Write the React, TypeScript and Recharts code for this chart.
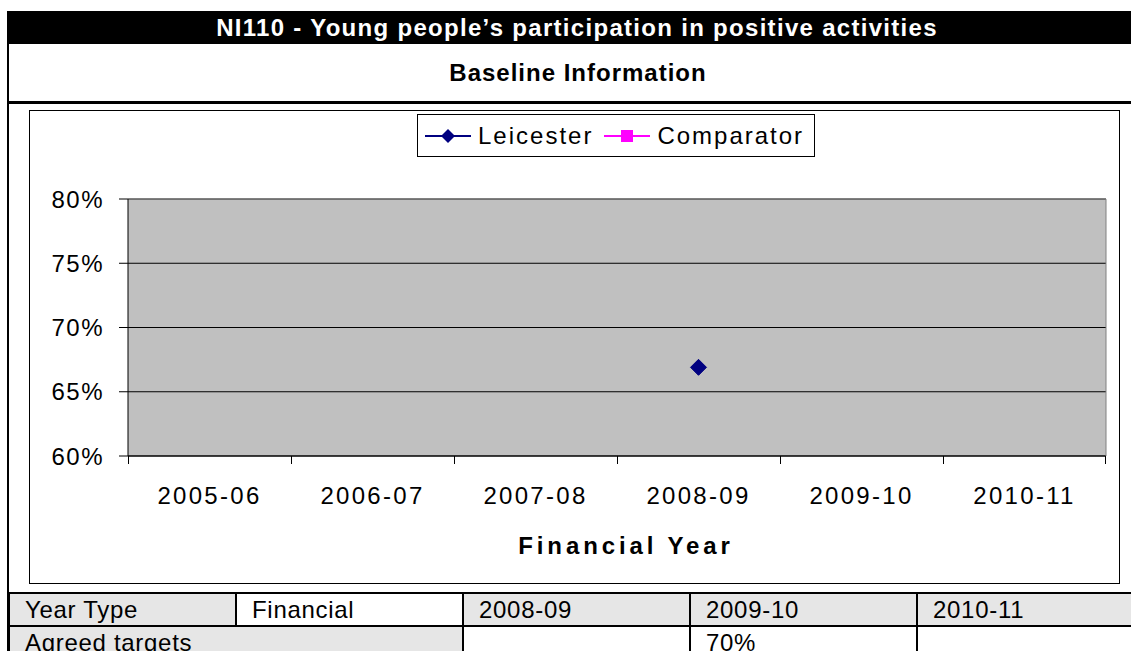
import React from 'react'
import { LineChart, Line, XAxis, YAxis, CartesianGrid, Legend } from 'recharts'

const years = ['2005-06', '2006-07', '2007-08', '2008-09', '2009-10', '2010-11']
const leicester = [null, null, null, 66.9, null, null]
const comparator = [null, null, null, null, null, null]
const yTicks = [60, 65, 70, 75, 80]
const seriesOrder = ['leicester', 'comparator']

const titleText = 'NI110 - Young people\u2019s participation in positive activities'
const subTitle = 'Baseline Information'
const xTitle = 'Financial Year'

const yearRow = ['Year Type', 'Financial', '2008-09', '2009-10', '2010-11']
const targetLabel = 'Agreed targets'
const targetValues = ['', '70%', '']

const data = years.map((year, i) => ({
  year,
  leicester: leicester[i],
  comparator: comparator[i],
}))

const FONT = '"Liberation Sans", Arial, sans-serif'
const NAVY = '#000080'
const MAGENTA = '#FF00FF'
const GREY_CELL = '#E6E6E6'

const colEdges = [8, 235, 462, 689, 916, 1150]

// x axis: labels sit in the middle of each band, tick marks between bands (Excel style)
const X_TICK_MARGIN = 31
const X_TICK_LEN = 8

function BandTick(props: any) {
  const { x, y, payload, index, width, visibleTicksCount } = props
  const half = width / visibleTicksCount / 2
  const axisY = y - X_TICK_MARGIN
  const left = Math.round(x - half) + 0.5
  const right = Math.round(x + half) - 0.5
  return (
    <g>
      <line x1={left} x2={left} y1={axisY} y2={axisY + X_TICK_LEN} stroke="#000" />
      {index === visibleTicksCount - 1 && (
        <line x1={right} x2={right} y1={axisY} y2={axisY + X_TICK_LEN} stroke="#000" />
      )}
      <text x={x} y={y} dy="0.71em" textAnchor="middle" fill="#000" fontSize={24} letterSpacing={2.3}>
        {payload.value}
      </text>
    </g>
  )
}

function Diamond(props: any) {
  const { cx, cy, value, key } = props
  if (value == null || cx == null || cy == null) return <g key={key} />
  const r = 8
  return (
    <polygon
      key={key}
      points={`${cx},${cy - r} ${cx + r},${cy} ${cx},${cy + r} ${cx - r},${cy}`}
      fill={NAVY}
      stroke={NAVY}
    />
  )
}

function Square(props: any) {
  const { cx, cy, value, key } = props
  if (value == null || cx == null || cy == null) return <g key={key} />
  return <rect key={key} x={cx - 6} y={cy - 6} width={12} height={12} fill={MAGENTA} />
}

function LegendBox(props: any) {
  const payload = [...(props.payload || [])].sort(
    (a: any, b: any) => seriesOrder.indexOf(a.dataKey) - seriesOrder.indexOf(b.dataKey)
  )
  return (
    <div
      style={{
        boxSizing: 'border-box',
        width: 398,
        height: 43,
        border: '1px solid #000',
        background: '#fff',
        display: 'flex',
        alignItems: 'center',
        paddingLeft: 7,
        fontFamily: FONT,
      }}
    >
      {payload.map((entry: any) => {
        const isL = entry.dataKey === 'leicester'
        const color = isL ? NAVY : MAGENTA
        return (
          <span key={entry.value} style={{ display: 'flex', alignItems: 'center', marginRight: 11 }}>
            <svg width={46} height={20} style={{ display: 'block' }}>
              <line x1={0} x2={46} y1={10} y2={10} stroke={color} strokeWidth={2} />
              {isL ? (
                <polygon points="23,3 30,10 23,17 16,10" fill={color} />
              ) : (
                <rect x={17} y={4} width={12} height={12} fill={color} />
              )}
            </svg>
            <span style={{ marginLeft: 7, fontSize: 24, letterSpacing: 2, color: '#000' }}>{entry.value}</span>
          </span>
        )
      })}
    </div>
  )
}

function cellStyle(left: number, right: number, top: number, height: number, bg: string): React.CSSProperties {
  return {
    position: 'absolute',
    left,
    top,
    width: right - left,
    height,
    boxSizing: 'border-box',
    background: bg,
    borderLeft: '2px solid #000',
    borderTop: '2px solid #000',
    paddingLeft: 15,
    fontSize: 24,
    letterSpacing: 0.7,
    lineHeight: '31px',
    whiteSpace: 'nowrap',
    overflow: 'hidden',
    color: '#000',
  }
}

export default function App() {
  return (
    <div
      style={{
        position: 'absolute',
        left: 0,
        top: 0,
        width: 1131,
        height: 651,
        overflow: 'hidden',
        background: '#fff',
        fontFamily: FONT,
      }}
    >
      {/* title bar */}
      <div
        style={{
          position: 'absolute',
          left: 7,
          top: 11,
          width: 1140,
          height: 33,
          background: '#000',
          color: '#fff',
          fontWeight: 'bold',
          fontSize: 24,
          letterSpacing: 1.3,
          lineHeight: '33px',
          textAlign: 'center',
        }}
      >
        {titleText}
      </div>
      {/* outer frame left */}
      <div style={{ position: 'absolute', left: 7, top: 11, width: 2, height: 640, background: '#000' }} />
      <div
        style={{
          position: 'absolute',
          left: 9,
          top: 44,
          width: 1138,
          height: 57,
          fontWeight: 'bold',
          fontSize: 24,
          letterSpacing: 1,
          lineHeight: '57px',
          textAlign: 'center',
          color: '#000',
        }}
      >
        {subTitle}
      </div>
      <div style={{ position: 'absolute', left: 7, top: 101, width: 1140, height: 3, background: '#000' }} />

      {/* chart box */}
      <div
        style={{
          position: 'absolute',
          left: 29,
          top: 110,
          width: 1091,
          height: 474,
          boxSizing: 'border-box',
          border: '1px solid #000',
        }}
      />

      <div style={{ position: 'absolute', left: 0, top: 0 }}>
        <LineChart width={1131} height={651} data={data} margin={{ top: 198, right: 24, bottom: 194, left: 28 }}>
          <CartesianGrid vertical={false} stroke="#000" fill="#C0C0C0" fillOpacity={1} />
          <XAxis
            dataKey="year"
            scale="band"
            height={1}
            interval={0}
            axisLine={{ stroke: '#000' }}
            tickLine={false}
            tickSize={0}
            tickMargin={X_TICK_MARGIN}
            tick={<BandTick />}
            label={{
              value: xTitle,
              position: 'bottom',
              offset: 80,
              dx: 9,
              fill: '#000',
              fontSize: 24,
              fontWeight: 'bold',
              letterSpacing: 3.9,
            }}
          />
          <XAxis
            xAxisId="top"
            orientation="top"
            type="number"
            domain={[0, 1]}
            allowDataOverflow
            height={1}
            tick={false}
            tickLine={false}
            axisLine={{ stroke: '#808080' }}
          />
          <YAxis
            domain={[60, 80]}
            ticks={yTicks}
            width={100}
            tickSize={9}
            tickMargin={15}
            axisLine={{ stroke: '#000' }}
            tickLine={{ stroke: '#000' }}
            tick={{ fill: '#000', fontSize: 24, letterSpacing: 1.5 }}
            tickFormatter={(v) => `${v}%`}
          />
          <YAxis
            yAxisId="r"
            orientation="right"
            domain={[0, 1]}
            allowDataOverflow
            width={1}
            tick={false}
            tickLine={false}
            axisLine={{ stroke: '#808080' }}
          />
          <Legend
            layout="horizontal"
            verticalAlign="middle"
            align="center"
            wrapperStyle={{ top: 114, left: 417, width: 398, height: 43 }}
            content={<LegendBox />}
          />
          <Line
            name="Leicester"
            dataKey="leicester"
            stroke={NAVY}
            strokeWidth={2}
            dot={Diamond}
            activeDot={false}
            isAnimationActive={false}
          />
          <Line
            name="Comparator"
            dataKey="comparator"
            stroke={MAGENTA}
            strokeWidth={2}
            dot={Square}
            activeDot={false}
            isAnimationActive={false}
          />
        </LineChart>
      </div>

      {/* table */}
      {yearRow.map((t, i) => (
        <div key={'y' + i} style={cellStyle(colEdges[i], colEdges[i + 1], 592, 33, i === 1 ? '#fff' : GREY_CELL)}>
          {t}
        </div>
      ))}
      <div style={cellStyle(colEdges[0], colEdges[2], 625, 40, GREY_CELL)}>{targetLabel}</div>
      {targetValues.map((t, i) => (
        <div key={'t' + i} style={cellStyle(colEdges[i + 2], colEdges[i + 3], 625, 40, '#fff')}>
          {t}
        </div>
      ))}
    </div>
  )
}
